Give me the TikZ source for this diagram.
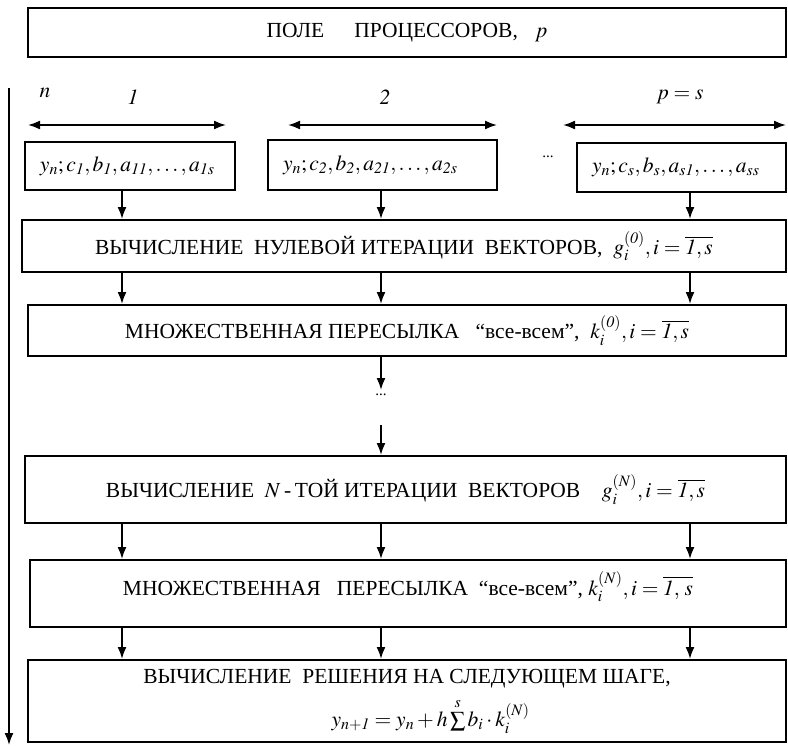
\documentclass[tikz,border=0pt]{standalone}
\usepackage{mathptmx}
\usepackage[no-math]{fontspec}
\setmainfont{Liberation Serif}
\usetikzlibrary{arrows.meta}

\begin{document}
\begin{tikzpicture}[
    x=1bp, y=-1bp,
    box/.style={draw, line width=2bp, inner sep=0pt, font=\fontsize{21.5bp}{25bp}\selectfont},
    pbox/.style={box, inner xsep=15bp, align=left},
    lbl/.style={font=\fontsize{21.5bp}{25bp}\selectfont},
    arrow/.style={-{Latex[length=12bp,width=9bp]}, line width=1.8bp},
    darrow/.style={{Latex[length=12bp,width=9bp]}-{Latex[length=12bp,width=9bp]}, line width=1.8bp}
]
\useasboundingbox (0,0) rectangle (788,746);

% columns of the processors
\coordinate (col1) at (122,0);
\coordinate (col2) at (381,0);
\coordinate (col3) at (690,0);

% field of processors
\node[box, minimum width=758bp, minimum height=49bp] (field) at (407,32.5)
    {ПОЛЕ\hspace{1.4em}ПРОЦЕССОРОВ,\hspace{0.8em}$p$};

% processor labels and spans
\node[lbl] (ln) at (45,93) {$n$};
\node[lbl] (l1) at (133,97) {$\mathit{1}$};
\node[lbl] (l2) at (385,97) {$\mathit{2}$};
\node[lbl] (ls) at (680,97) {$p=s$};
\coordinate (s1a) at (28,125);  \coordinate (s1b) at (226,125);
\coordinate (s2a) at (288,125); \coordinate (s2b) at (497,125);
\coordinate (s3a) at (563,125); \coordinate (s3b) at (786,125);
\draw[darrow] (s1a) -- (s1b);
\draw[darrow] (s2a) -- (s2b);
\draw[darrow] (s3a) -- (s3b);

% input data of each processor
\node[pbox, text width=180bp, minimum height=48bp] (p1) at (130,166)
    {$y_n;c_{\mathit{1}},b_{\mathit{1}},a_{\mathit{11}},\ldots,a_{\mathit{1}s}$};
\node[pbox, text width=199bp, minimum height=50bp] (p2) at (382.5,165)
    {$y_n;c_{\mathit{2}},b_{\mathit{2}},a_{\mathit{21}},\ldots,a_{\mathit{2}s}$};
\node[lbl] (pdots) at (548,157) {\fontsize{15bp}{17bp}\selectfont ...};
\node[pbox, text width=179bp, minimum height=49bp] (p3) at (681.5,167.5)
    {$y_n;c_s,b_s,a_{s\mathit{1}},\ldots,a_{ss}$};

% zero iteration
\node[box, minimum width=764bp, minimum height=52bp] (it0) at (404,246)
    {ВЫЧИСЛЕНИЕ\ \ НУЛЕВОЙ ИТЕРАЦИИ\ \ ВЕКТОРОВ,\ \ $g_i^{(\mathit{0})},i=\overline{\mathit{1},s}$};
\draw[arrow] (p1.south -| col1) -- (it0.north -| col1);
\draw[arrow] (p2.south -| col2) -- (it0.north -| col2);
\draw[arrow] (p3.south -| col3) -- (it0.north -| col3);

% sending of zero iteration
\node[box, minimum width=758bp, minimum height=51bp] (send0) at (407,330.5)
    {МНОЖЕСТВЕННАЯ ПЕРЕСЫЛКА\ \ \ “все-всем”,\ \ $k_i^{(\mathit{0})},i=\overline{\mathit{1},s}$};
\draw[arrow] (it0.south -| col1) -- (send0.north -| col1);
\draw[arrow] (it0.south -| col2) -- (send0.north -| col2);
\draw[arrow] (it0.south -| col3) -- (send0.north -| col3);

% skipped iterations
\coordinate (gapa) at (381,390);
\coordinate (gapb) at (381,425);
\node[lbl] (idots) at (381,395) {\fontsize{15bp}{17bp}\selectfont ...};
\draw[arrow] (send0.south -| col2) -- (gapa);

% N-th iteration
\node[box, minimum width=761bp, minimum height=67bp] (itN) at (405.5,489.5)
    {ВЫЧИСЛЕНИЕ\ \ $N$\,-\,ТОЙ ИТЕРАЦИИ\ \ ВЕКТОРОВ\quad $g_i^{(N)},i=\overline{\mathit{1},s}$};
\draw[arrow] (gapb) -- (itN.north -| col2);

% sending of N-th iteration
\node[box, minimum width=756bp, minimum height=67bp, text depth=20bp] (sendN) at (408,593.5)
    {МНОЖЕСТВЕННАЯ\ \ \ ПЕРЕСЫЛКА\ \ “все-всем”,\ $k_i^{(N)},i=\overline{\mathit{1},\,s}$};
\draw[arrow] (itN.south -| col1) -- (sendN.north -| col1);
\draw[arrow] (itN.south -| col2) -- (sendN.north -| col2);
\draw[arrow] (itN.south -| col3) -- (sendN.north -| col3);

% solution on the next step
\node[box, minimum width=758bp, minimum height=82bp, align=center] (sol) at (407,701)
    {ВЫЧИСЛЕНИЕ\ \ РЕШЕНИЯ НА СЛЕДУЮЩЕМ ШАГЕ,\\[10bp]
     \hspace{2.2em}$y_{n+\mathit{1}}=y_n+h\sum\limits^{s}b_i\cdot k_i^{(N)}$};
\draw[arrow] (sendN.south -| col1) -- (sol.north -| col1);
\draw[arrow] (sendN.south -| col2) -- (sol.north -| col2);
\draw[arrow] (sendN.south -| col3) -- (sol.north -| col3);

% time axis
\coordinate (ttop) at (9,88);
\coordinate (tbot) at (9,745);
\draw[arrow] (ttop) -- (tbot);

\end{tikzpicture}
\end{document}
